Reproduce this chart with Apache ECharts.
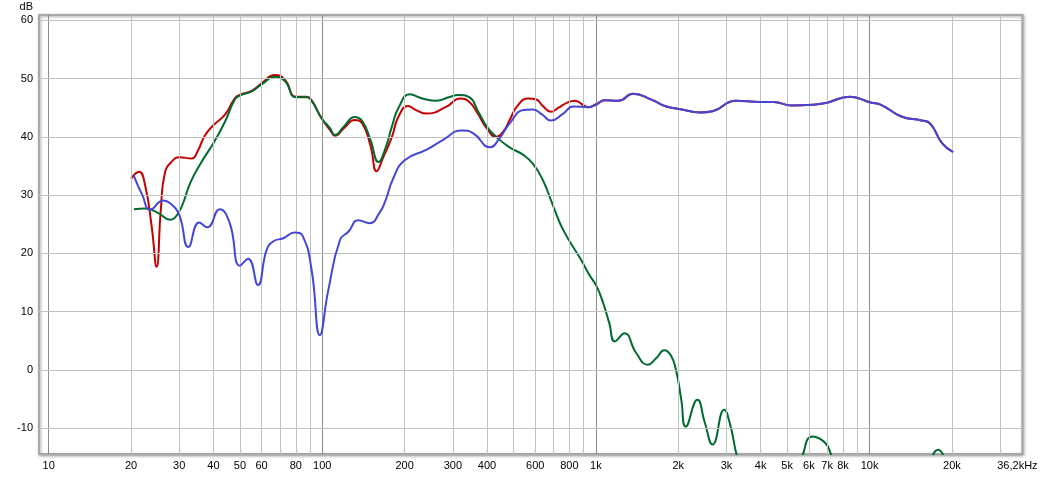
<!DOCTYPE html>
<html><head><meta charset="utf-8">
<script src="https://cdn.jsdelivr.net/npm/echarts@6/dist/echarts.min.js"></script>
<style>html,body{margin:0;padding:0;background:#fff}#c{width:1042px;height:477px}</style>
</head><body><div id="c"></div>
<script>
// Frequency (Hz), level (dB)
const redData = [[20,32.8],[21.4,34.0],[22.5,31.8],[23.8,24.6],[24.8,17.7],[25.7,27.5],[26.6,33.8],[28.5,36.0],[30,36.5],[33.3,36.3],[35,37.5],[37.2,40.2],[40,42.0],[44.1,43.8],[47.9,46.6],[50,47.2],[55.2,47.9],[60,49.2],[67.1,50.6],[73,49.8],[80,46.9],[87.7,46.9],[91.4,46.3],[99.4,43.2],[106.7,41.2],[111.3,40.2],[120,41.5],[131.3,42.9],[140,42.3],[150,38.5],[158,34.1],[167,36.5],[179.7,40.0],[190,43.5],[206,45.3],[220,44.6],[240.7,44.0],[284.5,45.2],[318.9,46.6],[344.6,46.0],[370,44.0],[398.6,41.5],[432,40.0],[460,41.0],[484,42.9],[520,45.5],[566,46.6],[606,46.4],[640,45.3],[684,44.3],[730,45.0],[780,45.8],[838,46.2],[937,45.1],[1000,45.6],[1078,46.3],[1210,46.2],[1367,47.4],[1596,46.4],[1810,45.2],[2014,44.8],[2410,44.2],[2670,44.4],[3245,46.2],[3980,46.0],[4465,46.0],[5158,45.4],[6180,45.5],[6918,45.8],[8480,46.9],[10100,45.9],[11015,45.5],[13070,43.5],[15500,42.8],[16640,42.3],[18430,38.9],[20220,37.4]];
const greenData = [[20.5,27.6],[22.5,27.7],[25,27.0],[27.8,25.8],[29,26.2],[30.6,28.0],[33,32.2],[36.2,35.7],[40,38.9],[44.1,42.6],[47.9,46.4],[50,47.1],[55.2,47.8],[60,49.0],[67.1,50.3],[73,49.6],[80,46.8],[87.7,46.8],[91.4,46.2],[99.4,43.2],[106.7,41.5],[111.3,40.3],[120,41.8],[131.3,43.4],[140,42.7],[150,39.5],[160.5,35.7],[170,38.0],[179.7,41.8],[190,45.0],[208.8,47.3],[232,46.6],[261.4,46.2],[290,46.8],[314,47.2],[344.6,46.8],[370,44.5],[398.6,41.8],[432,40.0],[484,38.2],[543,36.9],[588,35.4],[637,32.8],[700,28.0],[760,24.0],[875,19.2],[947,16.3],[1007,14.3],[1063,11.5],[1120,8.0],[1173,4.9],[1273,6.3],[1400,3.0],[1547,0.9],[1660,2.0],[1779,3.4],[1880,2.5],[1962,0.0],[2050,-5.0],[2130,-9.7],[2349,-5.1],[2500,-9.0],[2670,-12.8],[2943,-6.8],[3100,-9.5],[3289,-15.0],[3600,-20],[4200,-23],[5000,-20],[5600,-15.5],[6180,-11.4],[6918,-12.6],[7316,-15.0],[8500,-20],[10000,-22],[13000,-20],[16000,-17],[17840,-13.7],[19000,-15.5],[20220,-18]];
const blueData = [[20.4,33.5],[22,30.0],[23.5,27.5],[26.2,29.1],[27.8,28.6],[30,26.6],[32.4,21.1],[35.5,25.3],[38,24.5],[42.2,27.6],[45.9,25.2],[50,17.9],[53.6,19.1],[58.2,14.6],[62.6,20.6],[66.3,22.1],[72,22.6],[79.3,23.6],[85,22.9],[91.4,17.2],[98,6.0],[105.2,13.7],[116.1,22.3],[125,23.8],[135,25.7],[149,25.2],[162,27.0],[170,29.0],[181.8,32.9],[200,36.0],[240.7,37.8],[276.7,39.5],[323.2,41.1],[356.6,40.6],[410,38.2],[445,39.8],[484,42.3],[543,44.6],[588,44.7],[637,43.8],[684,42.8],[760,44.0],[826,45.2],[937,45.1],[1000,45.5],[1078,46.3],[1210,46.2],[1367,47.4],[1596,46.4],[1810,45.2],[2014,44.8],[2410,44.2],[2670,44.4],[3245,46.2],[3980,46.0],[4465,46.0],[5158,45.4],[6180,45.5],[6918,45.8],[8480,46.9],[10100,45.9],[11015,45.5],[13070,43.5],[15500,42.8],[16640,42.3],[18430,38.9],[20220,37.4]];

const xLabelVals = [10,20,30,40,50,60,80,100,200,300,400,600,800,1000,2000,3000,4000,5000,6000,7000,8000,10000,20000,36200];
const xLabelText = ['10','20','30','40','50','60','80','100','200','300','400','600','800','1k','2k','3k','4k','5k','6k','7k','8k','10k','20k','36,2kHz'];
const xGridVals = [10,20,30,40,50,60,70,80,90,100,200,300,400,500,600,700,800,900,1000,2000,3000,4000,5000,6000,7000,8000,9000,10000,20000,30000];
const xMajorVals = [10,100,1000,10000];
const yTickVals = [-10,0,10,20,30,40,50,60];
const yUnit = 'dB';

const font = 'Liberation Sans, Arial, sans-serif';
const chart = echarts.init(document.getElementById('c'));

const gridLines = xGridVals.map(v => ({
  xAxis: v,
  lineStyle: { color: xMajorVals.includes(v) ? '#8a8a8a' : '#c2c2c2', width: 1, type: 'solid' }
})).concat(yTickVals.map(v => ({ yAxis: v, lineStyle: { color: '#c2c2c2', width: 1, type: 'solid' } })));

const xLabelLines = xLabelVals.map((v, i) => ({
  xAxis: v,
  label: {
    show: true, position: 'start', distance: 6, formatter: xLabelText[i],
    color: '#000', fontSize: 11, fontFamily: font,
    padding: v === 36200 ? [0, 10, 0, 0] : 0
  }
}));
const yLabelLines = yTickVals.map(v => ({
  yAxis: v,
  label: { show: true, position: 'start', distance: 6, formatter: String(v), color: '#000', fontSize: 11, fontFamily: font }
}));

chart.setOption({
  animation: false,
  backgroundColor: '#fff',
  grid: {
    left: 39, right: 19.6, top: 15, bottom: 23, show: true,
    borderColor: '#a8a8a8', borderWidth: 2, backgroundColor: '#fff',
    shadowColor: 'rgba(0,0,0,0.35)', shadowBlur: 3, shadowOffsetX: 1, shadowOffsetY: 1
  },
  xAxis: {
    type: 'log', logBase: 10, min: 9.22, max: 36200,
    axisLine: { show: false }, axisTick: { show: false }, axisLabel: { show: false }, splitLine: { show: false }
  },
  yAxis: {
    type: 'value', min: -14.41, max: 60.91,
    axisLine: { show: false }, axisTick: { show: false }, axisLabel: { show: false }, splitLine: { show: false }
  },
  graphic: [{
    type: 'text', right: 1042 - 33, top: 1,
    style: { text: yUnit, fill: '#000', font: '11px ' + font, textAlign: 'right' }
  }],
  series: [
    {
      type: 'line', data: [[1000, 0]], symbol: 'none', silent: true, z: 1, clip: false,
      lineStyle: { opacity: 0 },
      markLine: { silent: true, symbol: 'none', animation: false, label: { show: false }, data: gridLines }
    },
    {
      type: 'line', data: [[1000, 0]], symbol: 'none', silent: true, z: 1, clip: false,
      lineStyle: { opacity: 0 },
      markLine: { silent: true, symbol: 'none', animation: false,
        lineStyle: { color: 'rgba(0,0,0,0)', width: 0 },
        data: xLabelLines.concat(yLabelLines) }
    },
    { name: 'red', type: 'line', data: redData, smooth: 0.5, symbol: 'none', z: 3, clip: true,
      lineStyle: { color: '#c40000', width: 2 } },
    { name: 'green', type: 'line', data: greenData, smooth: 0.5, symbol: 'none', z: 4, clip: true,
      lineStyle: { color: '#006b30', width: 2 } },
    { name: 'blue', type: 'line', data: blueData, smooth: 0.5, symbol: 'none', z: 5, clip: true,
      lineStyle: { color: '#4646d6', width: 2 } }
  ]
});
</script>
</body></html>
